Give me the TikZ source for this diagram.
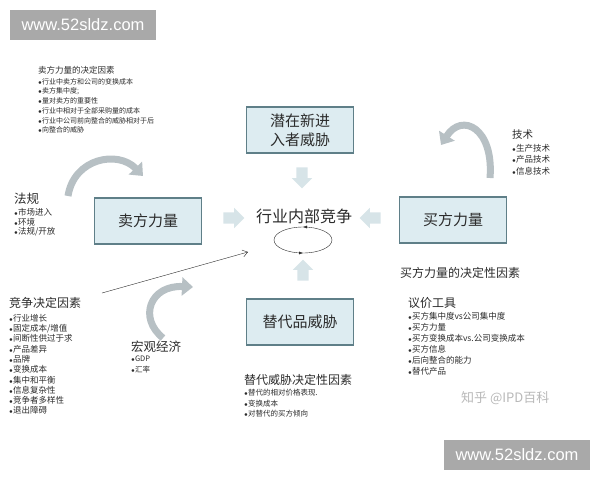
\documentclass[tikz,border=0pt]{standalone}
\usepackage{fontspec}
\setmainfont{Noto Sans CJK SC}
\newfontfamily\wmfont{Liberation Sans}
\usetikzlibrary{arrows.meta,shapes.arrows,decorations.markings}
\definecolor{boxfill}{HTML}{DDECF1}
\definecolor{boxline}{HTML}{5F7F88}
\definecolor{arrfill}{HTML}{D7E4E8}
\definecolor{bendgray}{HTML}{B7C0C4}
\definecolor{wmgray}{HTML}{A9A9A9}
\definecolor{txt}{HTML}{2B2B2B}
\newcommand\bt{{\fontsize{6}{6}\selectfont$\bullet$}}
\tikzset{
  forcebox/.style={draw=boxline, fill=boxfill, line width=1.2pt, minimum width=107pt, minimum height=46pt, inner sep=0pt, align=center, text=txt, font=\fontsize{15}{19}\selectfont},
  pusharr/.style={single arrow, fill=arrfill, inner xsep=0pt, inner ysep=5.5pt, text height=0pt, text depth=0pt, text width=0pt, minimum height=21pt, single arrow head extend=4.5pt},
  curlarr/.style={line width=7pt, draw=bendgray, -{Triangle[length=11pt,width=18pt]}},
  heading/.style={anchor=west, inner sep=0pt, text=txt, font=\fontsize{12}{12}\selectfont},
  item/.style={anchor=west, inner sep=0pt, text=txt, font=\fontsize{8.5}{8.5}\selectfont},
  wmark/.style={fill=wmgray, text=white, minimum width=146pt, minimum height=30pt, inner sep=0pt, font=\wmfont\fontsize{16.5}{16.5}\selectfont}
}
\begin{document}
\begin{tikzpicture}[x=1pt,y=-1pt]
\useasboundingbox (0,0) rectangle (600,480);
\node[wmark] (wm1) at (83,25) {www.52sldz.com};
\node[wmark] (wm2) at (517,455) {www.52sldz.com};

\node[forcebox] (entrant) at (300,130) {潜在新进\\入者威胁};
\node[forcebox] (seller) at (148,221) {卖方力量};
\node[forcebox] (buyer) at (453,220) {买方力量};
\node[forcebox] (subst) at (300,322) {替代品威胁};
\node[text=txt, inner sep=0pt, font=\fontsize{16}{16}\selectfont] (rival) at (304,216) {行业内部竞争};

\node[pusharr, rotate=-90] (push-t) at (302,175) {};
\node[pusharr] (push-l) at (231,218) {};
\node[pusharr, rotate=180] (push-r) at (373,218) {};
\node[pusharr, rotate=90] (push-b) at (303,273) {};

\draw[txt, thin, decoration={markings, mark=at position 0.25 with {\arrow{Latex[length=4pt]}}, mark=at position 0.75 with {\arrow{Latex[length=4pt]}}}, postaction={decorate}] (303,240) ellipse [x radius=29pt, y radius=13pt];

\coordinate (ln0) at (102,293);
\coordinate (ln1) at (248,252);
\draw[txt, thin, -{Straight Barb[length=5pt,width=7pt]}] (ln0) -- (ln1);

\draw[curlarr] (68,196) .. controls (74,158) and (118,150) .. (143,176);
\draw[curlarr] (490,178) .. controls (494,128) and (462,112) .. (441,145);
\draw[curlarr] (163,338) .. controls (138,318) and (150,285) .. (193,287);

\node[heading, font=\fontsize{8.5}{8.5}\selectfont] (sellerttl) at (38,70) {卖方力量的决定因素};
\foreach \t [count=\i from 0] in {行业中卖方和公司的变换成本,卖方集中度;,量对卖方的重要性,行业中相对于全部采购量的成本,行业中公司前向整合的威胁相对于后,向整合的威胁}
  \node[item, font=\fontsize{7}{7}\selectfont] (sl\i) at (38,82+9.6*\i) {\bt\t};

\node[heading, font=\fontsize{12.5}{12.5}\selectfont] (lawttl) at (14,199) {法规};
\foreach \t [count=\i from 0] in {市场进入,环境,法规/开放}
  \node[item] (lw\i) at (14,212+10*\i) {\bt\t};

\node[heading] (compttl) at (9,303) {竞争决定因素};
\foreach \t [count=\i from 0] in {行业增长,固定成本/增值,间断性供过于求,产品差异,品牌,变换成本,集中和平衡,信息复杂性,竞争者多样性,退出障碍}
  \node[item] (cp\i) at (9,318+10.3*\i) {\bt\t};

\node[heading, font=\fontsize{12.5}{12.5}\selectfont] (macrottl) at (131,347) {宏观经济};
\foreach \t [count=\i from 0] in {GDP,汇率}
  \node[item, font=\fontsize{7.5}{7.5}\selectfont] (mc\i) at (131,359+11*\i) {\bt\t};

\node[heading] (substttl) at (244,380) {替代威胁决定性因素};
\foreach \t [count=\i from 0] in {替代的相对价格表现.,变换成本,对替代的买方倾向}
  \node[item, font=\fontsize{7.5}{7.5}\selectfont] (sb\i) at (244,393+10.5*\i) {\bt\t};

\node[heading, font=\fontsize{10.5}{10.5}\selectfont] (techttl) at (512,135) {技术};
\foreach \t [count=\i from 0] in {生产技术,产品技术,信息技术}
  \node[item] (tc\i) at (512,148+11.7*\i) {\bt\t};

\node[heading] (buyerttl) at (400,273) {买方力量的决定性因素};
\node[heading] (bargttl) at (408,303) {议价工具};
\foreach \t [count=\i from 0] in {买方集中度vs公司集中度,买方力量,买方变换成本vs.公司变换成本,买方信息,后向整合的能力,替代产品}
  \node[item] (bg\i) at (408,316+11*\i) {\bt\t};

\node[anchor=west, inner sep=0pt, text=black!28, font=\fontsize{13}{13}\selectfont] (zhihu) at (461,398) {知乎 @IPD百科};
\end{tikzpicture}
\end{document}
